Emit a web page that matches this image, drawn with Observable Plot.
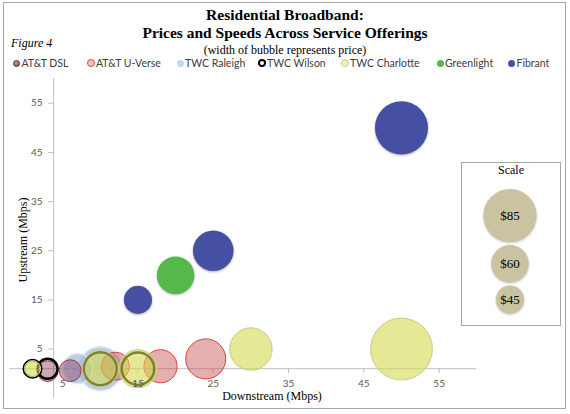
<!DOCTYPE html>
<html>
<head>
<meta charset="utf-8">
<script src="https://cdn.jsdelivr.net/npm/d3@7"></script>
<script src="https://cdn.jsdelivr.net/npm/@observablehq/plot@0.6"></script>
<style>
html, body { margin: 0; padding: 0; background: #fff; }
#page { position: relative; width: 570px; height: 414px; overflow: hidden; background: #fff; }
#frame { position: absolute; left: 3px; top: 2px; width: 563px; height: 407px; border: 1px solid #a6a6a6; box-sizing: border-box; }
.t { position: absolute; left: 0; width: 570px; text-align: center; font-family: "Liberation Serif", "Times New Roman", serif; color: #000; white-space: nowrap; }
#t1 { top: 6px; font-size: 15.5px; line-height: 18px; font-weight: bold; }
#t2 { top: 24px; font-size: 15.5px; line-height: 18px; font-weight: bold; }
#t3 { top: 43px; font-size: 12px; line-height: 14px; }
#fig { position: absolute; left: 11px; top: 36px; font-family: "Liberation Serif", serif; font-style: italic; font-size: 12px; line-height: 14px; }
.lg { position: absolute; top: 56px; height: 14px; font-family: Lato, "Liberation Sans", sans-serif; font-size: 10.5px; line-height: 14px; color: #404040; white-space: nowrap; }
.mk { position: absolute; border-radius: 50%; box-sizing: border-box; }
#chart { position: absolute; left: 0; top: 72px; }
#xt { position: absolute; top: 389px; left: 172px; width: 200px; text-align: center; font-family: "Liberation Serif", serif; font-size: 12px; line-height: 14px; }
#yt { position: absolute; left: -77px; top: 233px; width: 200px; text-align: center; font-family: "Liberation Serif", serif; font-size: 12px; line-height: 14px; transform: rotate(-90deg); }
#scalebox { position: absolute; left: 461px; top: 162px; width: 100px; height: 164px; border: 1px solid #a6a6a6; box-sizing: border-box; }
#scaletitle { position: absolute; left: 0; top: 0; width: 98px; text-align: center; font-family: "Liberation Serif", serif; font-size: 12px; line-height: 14px; }
#scalesvg { position: absolute; left: 0; top: 0; }
</style>
</head>
<body>
<div id="page">
  <div id="frame"></div>
  <div class="t" id="t1">Residential Broadband:</div>
  <div class="t" id="t2">Prices and Speeds Across Service Offerings</div>
  <div class="t" id="t3">(width of bubble represents price)</div>
  <div id="fig">Figure 4</div>
  <div id="legend"></div>
  <div id="chart"></div>
  <div id="xt">Downstream (Mbps)</div>
  <div id="yt">Upstream (Mbps)</div>
  <div id="scalebox"><div id="scaletitle">Scale</div><div id="scalesvg"></div></div>
</div>
<script>
// ---------- data ----------
const series = ["AT&T DSL", "AT&T U-Verse", "TWC Raleigh", "TWC Wilson", "TWC Charlotte", "Greenlight", "Fibrant"];

const dslDown = [3, 6];
const dslUp = [0.5, 0.6];
const dslPrice = [33, 35];

const uverseDown = [12, 18, 24];
const uverseUp = [1.5, 1.5, 3];
const uversePrice = [45, 53, 64];

const raleighDown = [7, 10];
const raleighUp = [1, 1];
const raleighPrice = [48, 70];

const wilsonDown = [1, 3, 10, 15];
const wilsonUp = [1, 1, 1, 1];
const wilsonPrice = [28, 32, 53, 52];

const charlotteDown = [1, 10, 15, 30, 50];
const charlotteUp = [1, 1, 1, 5, 5];
const charlottePrice = [26, 58, 61, 68, 99];

const greenlightDown = [20];
const greenlightUp = [20];
const greenlightPrice = [60];

const fibrantDown = [15, 25, 50];
const fibrantUp = [15, 25, 50];
const fibrantPrice = [45, 65, 85];

const xTicks = [5, 15, 25, 35, 45, 55];
const yTicks = [5, 15, 25, 35, 45, 55];

const scaleLabels = ["$85", "$60", "$45"];
const scalePrices = [85, 60, 45];

// ---------- layout / style settings ----------
const xDomain = [-2, 60];
const yDomain = [-5, 60];
const xCross = 3.8;   // where the vertical axis crosses
const yCross = 1;     // where the horizontal axis crosses
const rScale = {type: "linear", domain: [0, 100], range: [0, 31.25]};

const styles = {
  "AT&T DSL":      {fill: "#8c3c62", fillOpacity: 0.45, stroke: "#b03545", strokeWidth: 1},
  "AT&T U-Verse":  {fill: "#c0504d", fillOpacity: 0.45, stroke: "#e8383d", strokeWidth: 1},
  "TWC Raleigh":   {fill: "#9fb9dc", fillOpacity: 0.7, stroke: "#dce6f2", strokeWidth: 1.5},
  "TWC Wilson":    {fill: "none", stroke: "#000000", strokeWidth: 2.5},
  "TWC Charlotte": {fill: "#d4d94e", fillOpacity: 0.6, stroke: "#c9cc90", strokeWidth: 1},
  "Greenlight":    {fill: "#55b84a", imageFilter: "drop-shadow(0.5px 1.5px 1px rgba(0,0,0,0.3))"},
  "Fibrant":       {fill: "#4650a2", imageFilter: "drop-shadow(0.5px 1.5px 1px rgba(0,0,0,0.3))"}
};

const markerCss = {
  "AT&T DSL":      "width:7px;height:7px;background:radial-gradient(circle at 40% 35%, #c9a0a8, #7d3a48);border:1px solid #5a2a33;",
  "AT&T U-Verse":  "width:8px;height:8px;background:#eec0c0;border:1.5px solid #e8474b;",
  "TWC Raleigh":   "width:7px;height:7px;background:#c5d5ea;",
  "TWC Wilson":    "width:8px;height:8px;background:#fff;border:2px solid #000;",
  "TWC Charlotte": "width:8px;height:8px;background:#f0f0b8;border:1px solid #cccc99;",
  "Greenlight":    "width:7px;height:7px;background:#55b84a;",
  "Fibrant":       "width:7px;height:7px;background:#4650a2;"
};
const legendX = [16.5, 91, 180, 262, 345, 440, 511.5];

// ---------- build rows ----------
const rows = (down, up, price) => down.map((d, i) => ({down: d, up: up[i], price: price[i]}));
const data = {
  "AT&T DSL": rows(dslDown, dslUp, dslPrice),
  "AT&T U-Verse": rows(uverseDown, uverseUp, uversePrice),
  "TWC Raleigh": rows(raleighDown, raleighUp, raleighPrice),
  "TWC Wilson": rows(wilsonDown, wilsonUp, wilsonPrice),
  "TWC Charlotte": rows(charlotteDown, charlotteUp, charlottePrice),
  "Greenlight": rows(greenlightDown, greenlightUp, greenlightPrice),
  "Fibrant": rows(fibrantDown, fibrantUp, fibrantPrice)
};
const drawOrder = ["TWC Raleigh", "AT&T DSL", "AT&T U-Verse", "TWC Wilson", "TWC Charlotte", "Greenlight", "Fibrant"];

// ---------- legend ----------
const legend = document.getElementById("legend");
series.forEach((s, i) => {
  const item = document.createElement("div");
  item.className = "lg";
  item.style.left = (legendX[i] + 5) + "px";
  item.textContent = s;
  const mk = document.createElement("div");
  mk.className = "mk";
  mk.style.cssText = markerCss[s];
  const size = parseFloat(mk.style.width);
  mk.style.left = (legendX[i] - size / 2) + "px";
  mk.style.top = (63 - size / 2) + "px";
  legend.appendChild(mk);
  legend.appendChild(item);
});

// ---------- main chart ----------
const axisColor = "#bfbfbf";
const tickFont = {fontFamily: "Lato, 'Liberation Sans', sans-serif", fontSize: 10, fill: "#595959"};

const marks = [
  Plot.ruleY([yCross], {x1: xDomain[0], x2: xDomain[1], stroke: axisColor}),
  Plot.ruleX([xCross], {y1: yDomain[0], y2: yDomain[1], stroke: axisColor}),
  Plot.ruleY(yTicks, {y: d => d, x1: xCross - 0.66, x2: xCross, stroke: axisColor}),
  Plot.ruleX(xTicks, {x: d => d, y1: yCross, y2: yCross - 1, stroke: axisColor}),
  ...drawOrder.map(s => Plot.dot(data[s], {x: "down", y: "up", r: "price", ...styles[s]})),
  Plot.text(xTicks, {x: d => d, y: yCross, dy: 15.5, text: d => String(d), ...tickFont}),
  Plot.text(yTicks, {x: xCross, y: d => d, dx: -11, textAnchor: "end", text: d => String(d), ...tickFont})
];

const chart = Plot.plot({
  width: 570,
  height: 342,
  marginLeft: 9.44,
  marginRight: 93.7,
  marginTop: 6.2,
  marginBottom: 16.3,
  x: {domain: xDomain, axis: null},
  y: {domain: yDomain, axis: null},
  r: rScale,
  style: {overflow: "visible", background: "transparent"},
  marks
});
document.getElementById("chart").appendChild(chart);

// ---------- scale legend ----------
const gap = 4.7;
let acc = 0;
const scaleRows = scalePrices.map((p, i) => {
  const c = acc + p / 2;
  acc += p + gap;
  return {price: p, label: scaleLabels[i], c};
});
const scaleChart = Plot.plot({
  width: 98,
  height: 162,
  marginLeft: 0,
  marginRight: 3,
  marginTop: 0,
  marginBottom: 0,
  x: {axis: null},
  y: {domain: [0, 200], range: [25.4, 150.4], axis: null},
  r: rScale,
  style: {overflow: "visible", background: "transparent"},
  marks: [
    Plot.dot(scaleRows, {y: "c", r: "price", fill: "#c9c3a1", imageFilter: "drop-shadow(0.5px 1.5px 1px rgba(0,0,0,0.25))"}),
    Plot.text(scaleRows, {y: "c", text: "label", fontFamily: "'Liberation Serif', serif", fontSize: 13, fill: "#000"})
  ]
});
document.getElementById("scalesvg").appendChild(scaleChart);
</script>
</body>
</html>
